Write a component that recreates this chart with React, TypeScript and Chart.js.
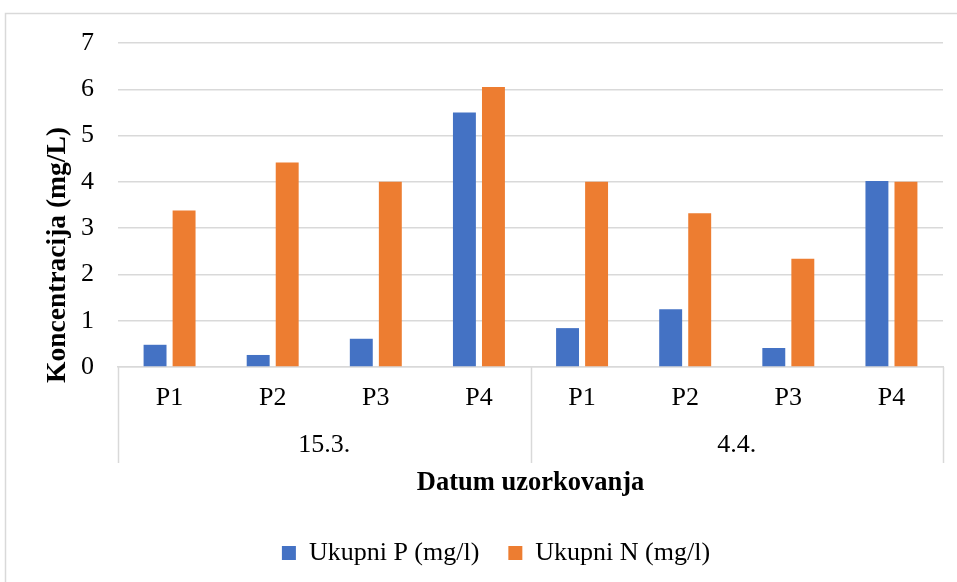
import React, { useEffect, useRef } from "react";
import { Chart, registerables } from "chart.js";

Chart.register(...registerables);

const categories = ["P1", "P2", "P3", "P4", "P1", "P2", "P3", "P4"];
const groups = ["15.3.", "4.4."];
const groupSize = 4;
const ukupniP = [0.48, 0.26, 0.61, 5.5, 0.84, 1.25, 0.41, 4.02];
const ukupniN = [3.38, 4.42, 4.0, 6.05, 4.0, 3.32, 2.34, 4.0];
const yTicks = [0, 1, 2, 3, 4, 5, 6, 7];
const yTitle = "Koncentracija (mg/L)";
const xTitle = "Datum uzorkovanja";

const FONT = "'Liberation Serif', 'Times New Roman', serif";
const GRID = "#d9d9d9";

const framePlugin = {
  id: "frame",
  beforeDraw(chart: any) {
    const ctx = chart.ctx;
    ctx.save();
    ctx.fillStyle = "#ffffff";
    ctx.fillRect(0, 0, chart.width, chart.height);
    ctx.strokeStyle = GRID;
    ctx.lineWidth = 1.5;
    ctx.strokeRect(5.5, 13.5, chart.width + 20, chart.height + 20);
    ctx.restore();
  },
};

const groupAxisPlugin = {
  id: "groupAxis",
  afterLayout(chart: any) {
    const lg = chart.legend;
    if (lg) {
      const dx = 22;
      const dy = 4;
      lg.left += dx;
      lg.right += dx;
      lg.top += dy;
      lg.bottom += dy;
    }
  },
  afterDraw(chart: any) {
    const ctx = chart.ctx;
    const x = chart.scales.x;
    const area = chart.chartArea;
    const bottom = area.bottom;
    const half = (x.getPixelForValue(1) - x.getPixelForValue(0)) / 2;
    ctx.save();
    ctx.strokeStyle = GRID;
    ctx.lineWidth = 1.5;
    const seps: number[] = [];
    for (let g = 0; g <= groups.length; g++) {
      const idx = g * groupSize;
      const px = idx < categories.length ? x.getPixelForValue(idx) - half : x.getPixelForValue(categories.length - 1) + half;
      seps.push(px);
      ctx.beginPath();
      ctx.moveTo(Math.round(px) + 0.5, bottom);
      ctx.lineTo(Math.round(px) + 0.5, bottom + 96);
      ctx.stroke();
    }
    ctx.fillStyle = "#000";
    ctx.font = `26px ${FONT}`;
    ctx.textAlign = "center";
    ctx.textBaseline = "middle";
    groups.forEach((g, i) => {
      ctx.fillText(g, (seps[i] + seps[i + 1]) / 2, bottom + 78);
    });
    // y axis title (Excel places it slightly below the plot centre)
    ctx.font = `bold 27.5px ${FONT}`;
    ctx.translate(area.left - 60, bottom - 112);
    ctx.rotate(-Math.PI / 2);
    ctx.fillText(yTitle, 0, 0);
    ctx.restore();
  },
};

export default function App() {
  const ref = useRef<HTMLCanvasElement | null>(null);
  useEffect(() => {
    if (!ref.current) return;
    const chart = new Chart(ref.current, {
      type: "bar",
      data: {
        labels: categories,
        datasets: [
          { label: "Ukupni P (mg/l)", data: ukupniP, backgroundColor: "#4472C4", borderWidth: 0 },
          { label: "Ukupni N (mg/l)", data: ukupniN, backgroundColor: "#ED7D31", borderWidth: 0 },
        ],
      },
      options: {
        responsive: false,
        animation: false,
        devicePixelRatio: 1,
        categoryPercentage: 0.563,
        barPercentage: 0.79,
        layout: { padding: { left: 5, right: 14, top: 43, bottom: 10 } },
        plugins: {
          tooltip: { enabled: false },
          legend: {
            position: "bottom",
            labels: {
              color: "#000",
              font: { family: FONT, size: 26 },
              boxWidth: 14,
              boxHeight: 14,
              padding: 29,
            },
          },
        },
        scales: {
          x: {
            grid: { display: false, drawTicks: false },
            border: { display: true, color: GRID, width: 1.5 },
            ticks: { color: "#000", font: { family: FONT, size: 26 }, padding: 16, maxRotation: 0 },
            title: {
              display: true,
              text: xTitle,
              color: "#000",
              font: { family: FONT, size: 26.5, weight: "bold" },
              padding: { top: 0, bottom: 8 },
            },
            afterFit(s: any) {
              s.height = 140;
            },
          },
          y: {
            min: 0,
            max: 7,
            afterBuildTicks(s: any) {
              s.ticks = yTicks.map((v) => ({ value: v }));
            },
            grid: { color: GRID, lineWidth: 1.5, drawTicks: false },
            border: { display: false },
            ticks: { color: "#000", font: { family: FONT, size: 26 }, padding: 24 },
            title: { display: false, text: yTitle },
            afterFit(s: any) {
              s.width = 113;
            },
          },
        },
      },
      plugins: [framePlugin, groupAxisPlugin],
    });
    return () => chart.destroy();
  }, []);
  return (
    <div style={{ position: "fixed", left: 0, top: 0, width: 957, height: 582, overflow: "hidden", background: "#fff" }}>
      <canvas ref={ref} width={957} height={582} style={{ display: "block" }} />
    </div>
  );
}
